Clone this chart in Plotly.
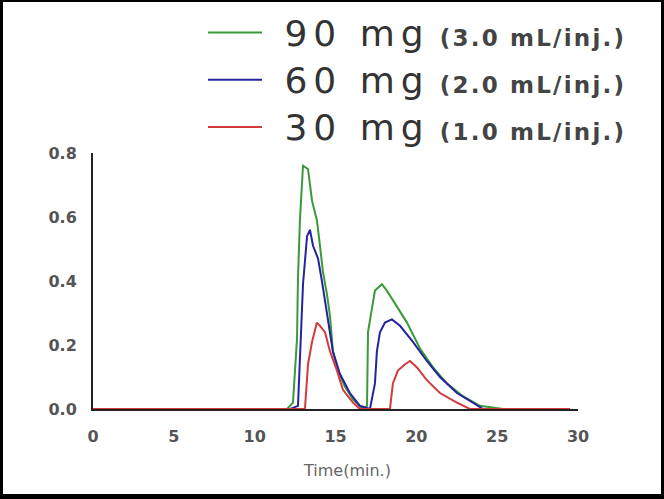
import plotly.graph_objects as go

# ---- data ----
t_90 = [0, 12.0, 12.37, 12.62, 12.68, 12.80, 12.99, 13.30, 13.55, 13.85, 14.04, 14.22, 14.47, 14.66, 14.84,
        15.15, 15.58, 16.08, 16.70, 16.95, 17.01, 17.25, 17.44, 17.87, 18.18, 18.80, 19.42, 20.22, 21.03,
        21.89, 22.88, 23.93, 25.36, 29.5]
y_90 = [0, 0, 0.02, 0.22, 0.41, 0.59, 0.76, 0.75, 0.65, 0.59, 0.51, 0.43, 0.36, 0.29, 0.18,
        0.12, 0.07, 0.03, 0.0, 0.01, 0.24, 0.31, 0.37, 0.39, 0.37, 0.32, 0.27, 0.19, 0.13,
        0.08, 0.04, 0.01, 0.0, 0]

t_60 = [0, 12.2, 12.68, 12.99, 13.24, 13.42, 13.61, 13.92, 14.16, 14.35, 14.53, 14.84, 15.27, 15.89,
        16.51, 17.13, 17.44, 17.56, 17.75, 18.06, 18.49, 18.99, 19.79, 20.65, 21.46, 22.51, 23.50, 24.12, 29.5]
y_60 = [0, 0, 0.01, 0.39, 0.54, 0.56, 0.51, 0.47, 0.40, 0.34, 0.27, 0.18, 0.11, 0.05,
        0.01, 0.0, 0.08, 0.18, 0.24, 0.27, 0.28, 0.26, 0.21, 0.15, 0.10, 0.05, 0.02, 0.0, 0]

t_30 = [0, 12.6, 13.11, 13.30, 13.55, 13.85, 14.04, 14.35, 14.66, 15.09, 15.46, 16.08, 16.51,
        18.37, 18.55, 18.86, 19.30, 19.61, 20.04, 20.65, 21.46, 22.51, 23.31, 29.5]
y_30 = [0, 0, 0.0, 0.14, 0.21, 0.27, 0.26, 0.24, 0.18, 0.12, 0.06, 0.02, 0.0,
        0.0, 0.08, 0.12, 0.14, 0.15, 0.13, 0.09, 0.05, 0.02, 0.0, 0]

doses = ["90 mg", "60 mg", "30 mg"]
volumes = ["(3.0 mL/inj.)", "(2.0 mL/inj.)", "(1.0 mL/inj.)"]
series_colors = ["#3a9a3a", "#2424a0", "#d43a3a"]
x_ticks = [0, 5, 10, 15, 20, 25, 30]
y_ticks = [0.0, 0.2, 0.4, 0.6, 0.8]
y_ticktext = ["0.0", "0.2", "0.4", "0.6", "0.8"]
x_title = "Time(min.)"

MAIN = "font-size:36px;letter-spacing:6px"
SUB = "font-size:23px;font-weight:bold;letter-spacing:2.2px;fill:#444"

def legend_name(dose, vol):
    return (f"<span style='{MAIN}'>\u00a0{dose}</span>"
            f"<span style='{SUB}'> {vol}</span>")

fig = go.Figure()
for i, (t, y) in enumerate([(t_90, y_90), (t_60, y_60), (t_30, y_30)]):
    fig.add_trace(go.Scatter(x=t, y=y, mode="lines", name=legend_name(doses[i], volumes[i]),
                             line=dict(color=series_colors[i], width=2)))

W, H = 664, 499
L, R, T, B = 93, 86, 153, 90
pw, ph = W - L - R, H - T - B

def px_x(p):
    return (p - L) / pw

def px_y(p):
    return (H - B - p) / ph

# black frame around the picture
frame = [(0, 0, 3, H), (0, 0, W, 2), (W - 3, 0, W, H), (0, H - 5, W, H)]
shapes = []
for x0, y0, x1, y1 in frame:
    shapes.append(dict(type="rect", xref="paper", yref="paper",
                       x0=px_x(x0), x1=px_x(x1), y0=px_y(y1), y1=px_y(y0),
                       fillcolor="black", line=dict(width=0), layer="above"))

fig.update_layout(
    width=W, height=H,
    margin=dict(l=L, r=R, t=T, b=B, autoexpand=False),
    paper_bgcolor="white", plot_bgcolor="white",
    font=dict(family="DejaVu Sans", color="#555"),
    shapes=shapes,
    showlegend=True,
    legend=dict(x=px_x(203), y=px_y(4), xanchor="left", yanchor="top",
                font=dict(size=34, color="#333", family="DejaVu Sans"),
                bgcolor="rgba(0,0,0,0)", itemwidth=54, traceorder="normal"),
    annotations=[dict(text=x_title, xref="paper", yref="paper", x=px_x(347), y=px_y(470),
                      xanchor="center", yanchor="middle", showarrow=False,
                      font=dict(size=16, color="#666", family="DejaVu Sans"))],
    xaxis=dict(range=[0, 30], tickvals=x_ticks, showgrid=False, zeroline=False,
               showline=True, linecolor="#222", linewidth=2,
               ticks="outside", ticklen=12, tickcolor="rgba(0,0,0,0)",
               tickfont=dict(size=16, color="#555", family="DejaVu Sans", weight="bold")),
    yaxis=dict(range=[0, 0.8], tickvals=y_ticks, ticktext=y_ticktext,
               showgrid=False, zeroline=False, showline=True, linecolor="#222", linewidth=2,
               ticks="outside", ticklen=11, tickcolor="rgba(0,0,0,0)",
               tickfont=dict(size=16, color="#555", family="DejaVu Sans", weight="bold")),
)

fig.write_html("out.html", config={"displayModeBar": False},
               post_script="document.body.style.margin='0';")
